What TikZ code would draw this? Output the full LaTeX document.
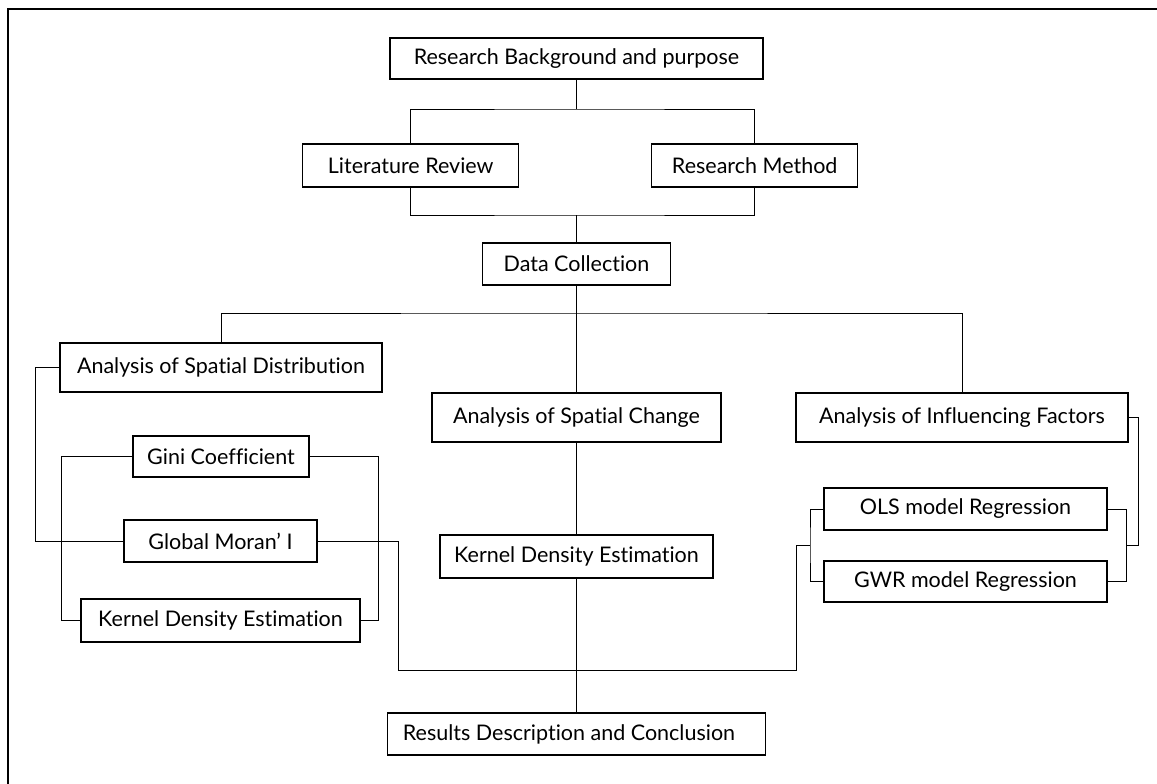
\documentclass[tikz,border=0pt]{standalone}
\usepackage{fontspec}
\setmainfont{Lato}[Ligatures=NoCommon]
\begin{document}
\begin{tikzpicture}[x=1pt, y=-1pt, line width=1pt,
    box/.style={draw, line width=1.1pt, inner sep=0pt, align=center,
      font=\fontsize{21.5}{25}\selectfont}]
    \useasboundingbox (0,0) rectangle (1157,784);
    % 枠
    \draw[line width=1.6pt] (8,784) -- (8,9) -- (1157,9);

    % ボックス
    \node[box, minimum width=373, minimum height=41] (bg) at (576.5,58.5) {Research Background and purpose};
    \node[box, minimum width=216, minimum height=43] (lit) at (410.7,165.5) {Literature Review};
    \node[box, minimum width=206, minimum height=43] (meth) at (754.7,165.5) {Research Method};
    \node[box, minimum width=188, minimum height=42] (data) at (576.5,264) {Data Collection};
    \node[box, minimum width=322, minimum height=49] (dist) at (221,367.5) {Analysis of Spatial Distribution};
    \node[box, minimum width=289, minimum height=49] (change) at (576.5,417.5) {Analysis of Spatial Change};
    \node[box, minimum width=332, minimum height=49] (factor) at (962,417.5) {Analysis of Influencing Factors};
    \node[box, minimum width=176, minimum height=41] (gini) at (221,456.5) {Gini Coefficient};
    \node[box, minimum width=193, minimum height=42] (moran) at (220.5,541) {Global Moran’ I};
    \node[box, minimum width=279, minimum height=43] (kdeL) at (220.5,620.5) {Kernel Density Estimation};
    \node[box, minimum width=273, minimum height=43] (kdeC) at (576.5,556.5) {Kernel Density Estimation};
    \node[box, minimum width=283, minimum height=42] (ols) at (965.5,509) {OLS model Regression};
    \node[box, minimum width=283, minimum height=41] (gwr) at (965.5,581.5) {GWR model Regression};
    \node[box, minimum width=378, minimum height=42] (result) at (576.5,734) {Results Description and Conclusion\hspace{15pt}};

    % 分岐点
    \coordinate (j1) at (576.5,109);
    \coordinate (j2) at (576.5,215);
    \coordinate (j3) at (576.5,313);
    \coordinate (j4) at (398,670);
    \coordinate (j5) at (810,545);
    \coordinate (j6) at (1126,545);

    % 接続線
    \draw (bg) -- (j1);
    \draw (lit.north) |- (j1) -| (meth.north);
    \draw (lit.south) |- (j2) -| (meth.south);
    \draw (j2) -- (data);
    \draw (data) -- (change);
    \draw (dist.north) |- (j3) -| (factor.north);
    \draw (change) -- (kdeC);
    \draw (kdeC) -- (result);
    \draw (dist.west) -- ++(-24,0) |- (moran.west);
    \draw (gini.west) -- ++(-71,0) |- (kdeL.west);
    \draw (gini.east) -- ++(69,0) |- (kdeL.east);
    \draw (moran.east) -| (j4) -| (j5 -| 796,0) |- (j5);
    \draw (ols.west) -| (j5) |- (gwr.west);
    \draw (ols.east) -| (j6) |- (gwr.east);
    \draw (factor.east) -- ++(10,0) |- (j6);
  \end{tikzpicture}
\end{document}
